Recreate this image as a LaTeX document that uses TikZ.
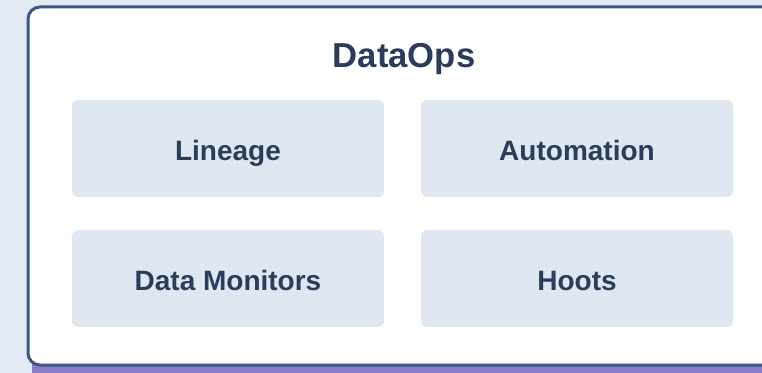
\documentclass[tikz,border=0pt]{standalone}
\usepackage{fontspec}
\setmainfont{Liberation Sans}
\definecolor{pagebg}{HTML}{E3EAF3}
\definecolor{frameblue}{HTML}{3B5983}
\definecolor{shadowpurple}{HTML}{8A7BC6}
\definecolor{tilefill}{HTML}{DFE7F1}
\definecolor{inkblue}{HTML}{2A3D5B}
\begin{document}
\begin{tikzpicture}[x=0.75pt,y=-0.75pt]
\tikzstyle{tile}=[fill=tilefill, rounded corners=4.5pt, minimum width=234pt, minimum height=72.75pt, inner sep=0pt, text=inkblue, text height=18pt, text depth=0pt, font=\bfseries\fontsize{21}{25}\selectfont]
\tikzstyle{heading}=[inner sep=0pt, text=inkblue, font=\bfseries\fontsize{26}{31}\selectfont]
\clip (0,0) rectangle (762,373);
\fill [pagebg] (0,0) rectangle (762,373);
% frame with its shadow
\fill [shadowpurple, rounded corners=9pt] (32,20) rectangle (830,390);
\draw [frameblue, fill=white, line width=2.25pt, rounded corners=9pt] (28,7) rectangle (830,365);
\node [heading, anchor=base] (dataops) at (404,68) {DataOps};
% the four tiles
\node [tile] (lineage) at (228,148.5) {Lineage};
\node [tile] (automation) at (577,148.5) {Automation};
\node [tile] (monitors) at (228,278.5) {Data Monitors};
\node [tile] (hoots) at (577,278.5) {Hoots};
\end{tikzpicture}
\end{document}
